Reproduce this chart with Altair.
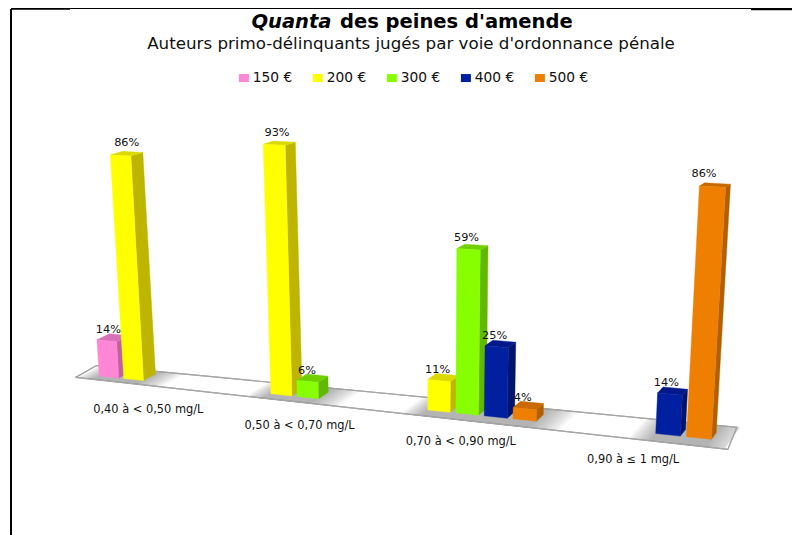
import altair as alt
import pandas as pd

groups = ["0,40 à < 0,50 mg/L", "0,50 à < 0,70 mg/L", "0,70 à < 0,90 mg/L", "0,90 à ≤ 1 mg/L"]
series = ["150 €", "200 €", "300 €", "400 €", "500 €"]
v150 = [14, 0, 0, 0]
v200 = [86, 93, 11, 0]
v300 = [0, 6, 59, 0]
v400 = [0, 0, 25, 14]
v500 = [0, 0, 4, 86]
table = [v150, v200, v300, v400, v500]

front = ["#FF85D5", "#FFFF00", "#88FF00", "#0020A0", "#EE7F00"]
side = ["#C0609F", "#BDB500", "#62B800", "#00146E", "#B25F00"]
top = ["#D870B8", "#DADA00", "#70D000", "#00188A", "#C86A00"]

FONT = "DejaVu Sans"
STRIDE, BAR = 5.8, 0.8


def base(u):
    d = 1 - 0.0053 * u
    return (99.3 + 23.8 * u) / d, (376 + 0.523 * u) / d


def project(u, v, w):
    xb, yb = base(u)
    h = (2.61 + 0.00056 * (xb - 141)) * w
    x = xb + (xb - 427) * h / 5030
    y = yb - h
    return (x + v * (12 - 0.0125 * (xb - 140)), y - v * (6.5 - 3.3 * h / 250))


polys = []


def add(layer, pid, pts, color):
    for i, (x, y) in enumerate(list(pts) + [pts[0]]):
        polys.append(dict(layer=layer, pid=pid, i=i, x=x, y=y, c=color))


# floor and soft shadows
fl = [(-0.72, -0.5), (-0.8, 1.3), (22.7, 2.1), (22.9, -1.2)]
floor = [project(u, v, 0) for u, v in fl]
shadow_rows = []
spreads = [1.0, 0.92, 0.84, 0.76, 0.68, 0.6, 0.52, 0.44, 0.36, 0.28, 0.2, 0.14, 0.08, 0.02]
for g in range(len(groups)):
    slots = [s for s in range(len(series)) if table[s][g] > 0]
    u0 = g * STRIDE + slots[0]
    u1 = g * STRIDE + slots[-1] + BAR
    for k, e in enumerate(spreads):
        a = max(u0 - 0.7 * e, -0.75)
        b = min(u1 + e, 22.8)
        fr = lambda u: -0.5 - 0.7 * (u + 0.72) / 23.6
        bk = lambda u: 1.3 + 0.8 * (u + 0.8) / 23.5
        pts = [project(a, fr(a), 0), project(a, bk(a), 0), project(b, bk(b), 0), project(b, fr(b), 0)]
        for i, (x, y) in enumerate(pts + [pts[0]]):
            shadow_rows.append(dict(pid=f"{g}-{k}", i=i, x=x, y=y))

labels = []
pid = 0
for g in range(len(groups)):
    for s in range(len(series)):
        w = table[s][g]
        if w <= 0:
            continue
        u0 = g * STRIDE + s
        u1 = u0 + BAR
        add("bar", pid, [project(u1, 0, 0), project(u1, 1, 0), project(u1, 1, w), project(u1, 0, w)], side[s])
        add("bar", pid + 1, [project(u0, 0, w), project(u1, 0, w), project(u1, 1, w), project(u0, 1, w)], top[s])
        add("bar", pid + 2, [project(u0, 0, 0), project(u1, 0, 0), project(u1, 0, w), project(u0, 0, w)], front[s])
        pid += 3
        tl = project(u0, 0, w)
        br = project(u1, 1, w)
        xb, yb = base(u0)
        lean = tl[0] - xb
        rise = yb - tl[1]
        labels.append(dict(x=(tl[0] + br[0]) / 2 - 5.5 - 0.42 * lean,
                           y=project(u0, 1, w)[1] - 3 - 0.022 * rise, t=f"{w}%"))

cats = []
for g, name in enumerate(groups):
    xc, yc = base(g * STRIDE + 2.4)
    cats.append(dict(x=xc - 12 + 0.012 * xc, y=yc + 28, t=name))

X = alt.X("x:Q", scale=alt.Scale(domain=[8, 792]), axis=None)
Y = alt.Y("y:Q", scale=alt.Scale(domain=[535, 8]), axis=None)

floor_df = pd.DataFrame([dict(i=i, x=p[0], y=p[1]) for i, p in enumerate(floor + [floor[0]])])
floor_layer = alt.Chart(floor_df).mark_line(fill="white", stroke="#A6A6A6", strokeWidth=1.2).encode(
    x=X, y=Y, order="i:Q")

shadow_layer = alt.Chart(pd.DataFrame(shadow_rows)).mark_line(
    fill="#777777", fillOpacity=0.05, strokeOpacity=0).encode(
    x=X, y=Y, order="i:Q", detail="pid:N")

floor_edge = alt.Chart(floor_df).mark_line(stroke="#A6A6A6", strokeWidth=1.2).encode(
    x=X, y=Y, order="i:Q")

bars = alt.Chart(pd.DataFrame(polys)).mark_line(strokeWidth=0.4).encode(
    x=X, y=Y, order="i:Q", detail="pid:N",
    fill=alt.Fill("c:N", scale=None),
    stroke=alt.Stroke("c:N", scale=None))

value_labels = alt.Chart(pd.DataFrame(labels)).mark_text(
    font=FONT, fontSize=11.3, color="#111111", baseline="middle").encode(x=X, y=Y, text="t:N")

cat_labels = alt.Chart(pd.DataFrame(cats)).mark_text(
    font=FONT, fontSize=11.4, color="#111111", baseline="middle").encode(x=X, y=Y, text="t:N")

legend_layer = alt.Chart(pd.DataFrame(dict(s=series, x=[400] * 5, y=[300] * 5))).mark_point(
    filled=True, size=0, opacity=1).encode(
    x=X, y=Y,
    color=alt.Color("s:N", sort=series,
                    scale=alt.Scale(domain=series, range=front),
                    legend=alt.Legend(orient="none", legendX=229, legendY=63, direction="horizontal",
                                      columns=5, title=None, padding=0, offset=0,
                                      symbolType="M-1,-0.8H1V0.8H-1Z", symbolSize=100,
                                      symbolStrokeWidth=0, columnPadding=18, labelOffset=2,
                                      labelFont=FONT, labelFontSize=13.8, labelColor="#111111")))

title_a = alt.Chart(pd.DataFrame([dict(x=251.5, y=22, t="Quanta")])).mark_text(
    font=FONT, fontSize=19.5, fontWeight="bold", fontStyle="italic", align="left", baseline="middle", color="black"
).encode(x=X, y=Y, text="t:N")
title_b = alt.Chart(pd.DataFrame([dict(x=340, y=22, t="des peines d'amende")])).mark_text(
    font=FONT, fontSize=19.5, fontWeight="bold", align="left", baseline="middle", color="black"
).encode(x=X, y=Y, text="t:N")
subtitle = alt.Chart(pd.DataFrame([dict(x=411, y=44, t="Auteurs primo-délinquants jugés par voie d'ordonnance pénale")])).mark_text(
    font=FONT, fontSize=16.7, align="center", baseline="middle", color="#111111"
).encode(x=X, y=Y, text="t:N")

frame_df = pd.DataFrame([
    dict(x=11, x2=11, y=9, y2=535, w=2),
    dict(x=11, x2=792, y=8.5, y2=8.5, w=1),
    dict(x=11, x2=70, y=9, y2=9, w=1.5),
    dict(x=751, x2=792, y=9.5, y2=9.5, w=1.5),
])
frame = alt.Chart(frame_df).mark_rule(color="black").encode(
    x=X, y=Y, x2="x2:Q", y2="y2:Q",
    strokeWidth=alt.StrokeWidth("w:Q", scale=None))

chart = alt.layer(frame, floor_layer, shadow_layer, floor_edge, bars, value_labels, cat_labels,
                  title_a, title_b, subtitle, legend_layer).properties(
    width=784, height=527, padding=0, background="white",
    autosize=alt.AutoSizeParams(type="none"),
).configure_view(stroke=None)

chart.save("out.html", embed_options={"renderer": "svg", "actions": False})
